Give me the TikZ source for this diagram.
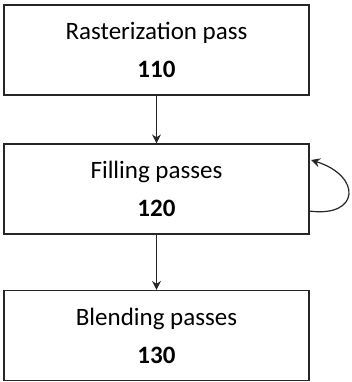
\documentclass[tikz,border=0pt]{standalone}
\usepackage{fontspec}
\setmainfont{Carlito}
\usetikzlibrary{arrows.meta}
\begin{document}
\begin{tikzpicture}[x=1pt,y=-1pt,
  passbox/.style={draw=black!85, line width=1.2pt, minimum width=305pt, minimum height=90pt, inner sep=0pt, align=center, font=\fontsize{25}{38}\selectfont},
  conn/.style={draw=black!85, line width=1.2pt, -{Stealth[length=9pt,width=9pt]}}]
\useasboundingbox (0,0) rectangle (351,382);
\node[passbox] (b1) at (156.5,50) {Rasterization pass\\\textbf{110}};
\node[passbox] (b2) at (156.5,189) {Filling passes\\\textbf{120}};
\node[passbox] (b3) at (156.5,335.5) {Blending passes\\\textbf{130}};
\draw[conn] (b1.south) -- (b2.north);
\draw[conn] (b2.south) -- (b3.north);
\coordinate (ls) at (309,211);
\coordinate (le) at (311,160);
\draw[conn] (ls) .. controls (360,218) and (362,176) .. (le);
\end{tikzpicture}
\end{document}
